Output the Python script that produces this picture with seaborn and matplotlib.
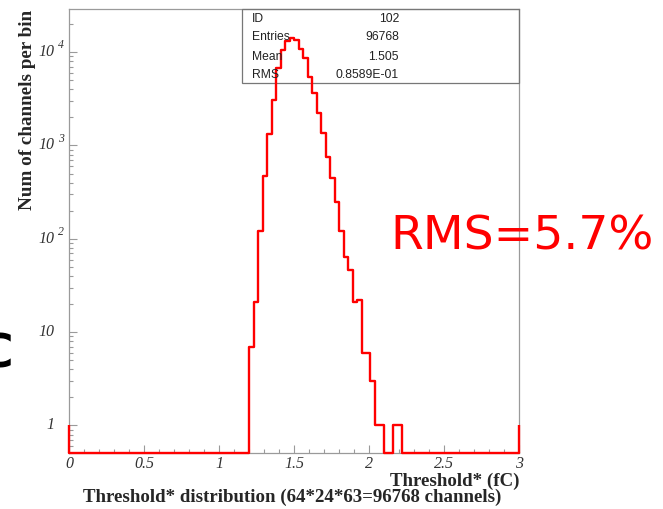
import numpy as np
import pandas as pd
import matplotlib
matplotlib.use("Agg")
import matplotlib.pyplot as plt
import seaborn as sns
from matplotlib.patches import Rectangle
from matplotlib.ticker import FixedLocator, FixedFormatter, MultipleLocator, LogLocator, NullFormatter

# histogram: 100 bins of 0.03 fC from 0 to 3, counts
x_lo, x_hi, n_bins = 0.0, 3.0, 100
first_filled_bin = 40
filled_counts = [7, 21, 122, 476, 1321, 3080, 6730, 10590, 13300, 14100,
                 13550, 10850, 8630, 5480, 3640, 2220, 1355, 760, 446, 247,
                 121, 64, 46, 21, 22, 6, 6, 3, 1, 1, 0, 0, 1, 1]
underflow = 1
overflow = 1

stat_names = ["ID", "Entries", "Mean", "RMS"]
stat_values = ["102", "96768", "1.505", "0.8589E-01"]

y_ticks = [1, 10, 100, 1000, 10000]
y_tick_base = ["1", "10", "10", "10", "10"]
y_tick_exp = ["", "", "2", "3", "4"]
x_ticks = [0, 0.5, 1, 1.5, 2, 2.5, 3]
x_tick_labels = ["0", "0.5", "1", "1.5", "2", "2.5", "3"]

sns.set_style("white")
plt.rcParams["font.family"] = ["Liberation Serif", "DejaVu Sans"]

y_floor, y_top = 0.507, 2.9e4

counts = np.zeros(n_bins)
counts[first_filled_bin:first_filled_bin + len(filled_counts)] = filled_counts
edges = np.linspace(x_lo, x_hi, n_bins + 1)
y_draw = np.maximum(counts, y_floor)
hist_df = pd.DataFrame({"x": edges, "y": np.append(y_draw, y_draw[-1])})

fig = plt.figure(figsize=(6.63, 5.09), dpi=100)
ax = fig.add_axes([69 / 663, 1 - 453 / 509, 450 / 663, 444 / 509])

sns.lineplot(data=hist_df, x="x", y="y", drawstyle="steps-post", color="red",
             lw=1.7, estimator=None, sort=False, ax=ax, clip_on=False, zorder=5)
ax.vlines([x_lo, x_hi], y_floor, [underflow, overflow], color="red", lw=1.7,
          clip_on=False, zorder=5)

ax.set_yscale("log")
ax.set_xlim(x_lo, x_hi)
ax.set_ylim(y_floor, y_top)
ax.set_xlabel("")
ax.set_ylabel("")

ax.xaxis.set_major_locator(FixedLocator(x_ticks))
ax.xaxis.set_major_formatter(FixedFormatter(x_tick_labels))
ax.xaxis.set_minor_locator(MultipleLocator(0.1))
ax.yaxis.set_major_locator(FixedLocator(y_ticks))
ax.yaxis.set_major_formatter(NullFormatter())
ax.yaxis.set_minor_locator(LogLocator(base=10, subs=np.arange(2, 10)))
ax.yaxis.set_minor_formatter(NullFormatter())

ax.tick_params(which="both", direction="in", colors="#9a9a9a", labelcolor="#333333",
               top=False, right=False, bottom=True, left=True)
ax.tick_params(which="major", length=6, width=0.8, labelsize=11.5)
ax.tick_params(which="minor", length=3, width=0.8)
ax.tick_params(axis="x", pad=2.5)
for lab in ax.get_xticklabels():
    lab.set_fontstyle("italic")
for sp in ax.spines.values():
    sp.set_color("#9a9a9a")
    sp.set_linewidth(0.9)

# y tick labels: base number right-aligned, exponent hanging to the right
ytf = ax.get_yaxis_transform()
for v, base, ex in zip(y_ticks, y_tick_base, y_tick_exp):
    ax.annotate(base, xy=(0, v), xycoords=ytf, xytext=(-10.5, 0), textcoords="offset points",
                ha="right", va="center", fontsize=11.5, fontstyle="italic", color="#333333")
    if ex:
        ax.annotate(ex, xy=(0, v), xycoords=ytf, xytext=(-8, 5), textcoords="offset points",
                    ha="left", va="center", fontsize=8.5, fontstyle="italic", color="#333333")

# statistics box
ax.add_patch(Rectangle((173 / 450, 370 / 444), 277 / 450, 74 / 444, transform=ax.transAxes,
                       fill=False, edgecolor="#777777", lw=0.9, zorder=4, clip_on=False))
for i, (name, val) in enumerate(zip(stat_names, stat_values)):
    yy = 1 - (18.5 + 19 * i) / 509
    fig.text(252 / 663, yy, name, ha="left", va="center", family="Liberation Sans",
             fontsize=8.7, color="#222222")
    fig.text(399 / 663, yy, val, ha="right", va="center", family="Liberation Sans",
             fontsize=8.7, color="#222222")

fig.text(27.5 / 663, 1 - 10 / 509, "Num of channels per bin", rotation=90, ha="center",
         va="top", fontweight="bold", fontsize=13.8)
fig.text(519 / 663, 1 - 481 / 509, "Threshold* (fC)", ha="right", va="center",
         fontweight="bold", fontsize=13.6)
fig.text(292 / 663, 1 - 497.5 / 509, "Threshold* distribution (64*24*63=96768 channels)",
         ha="center", va="center", fontweight="bold", fontsize=13.6)

fig.text(522 / 663, 1 - 237 / 509, "RMS=5.7%", ha="center", va="center",
         color="red", fontsize=34, family="DejaVu Sans")
fig.text(13 / 663, 1 - 355 / 509, "C", ha="right", va="center", color="black",
         fontsize=34, fontweight="bold", family="DejaVu Sans")

fig.savefig("out.png", dpi=100)
